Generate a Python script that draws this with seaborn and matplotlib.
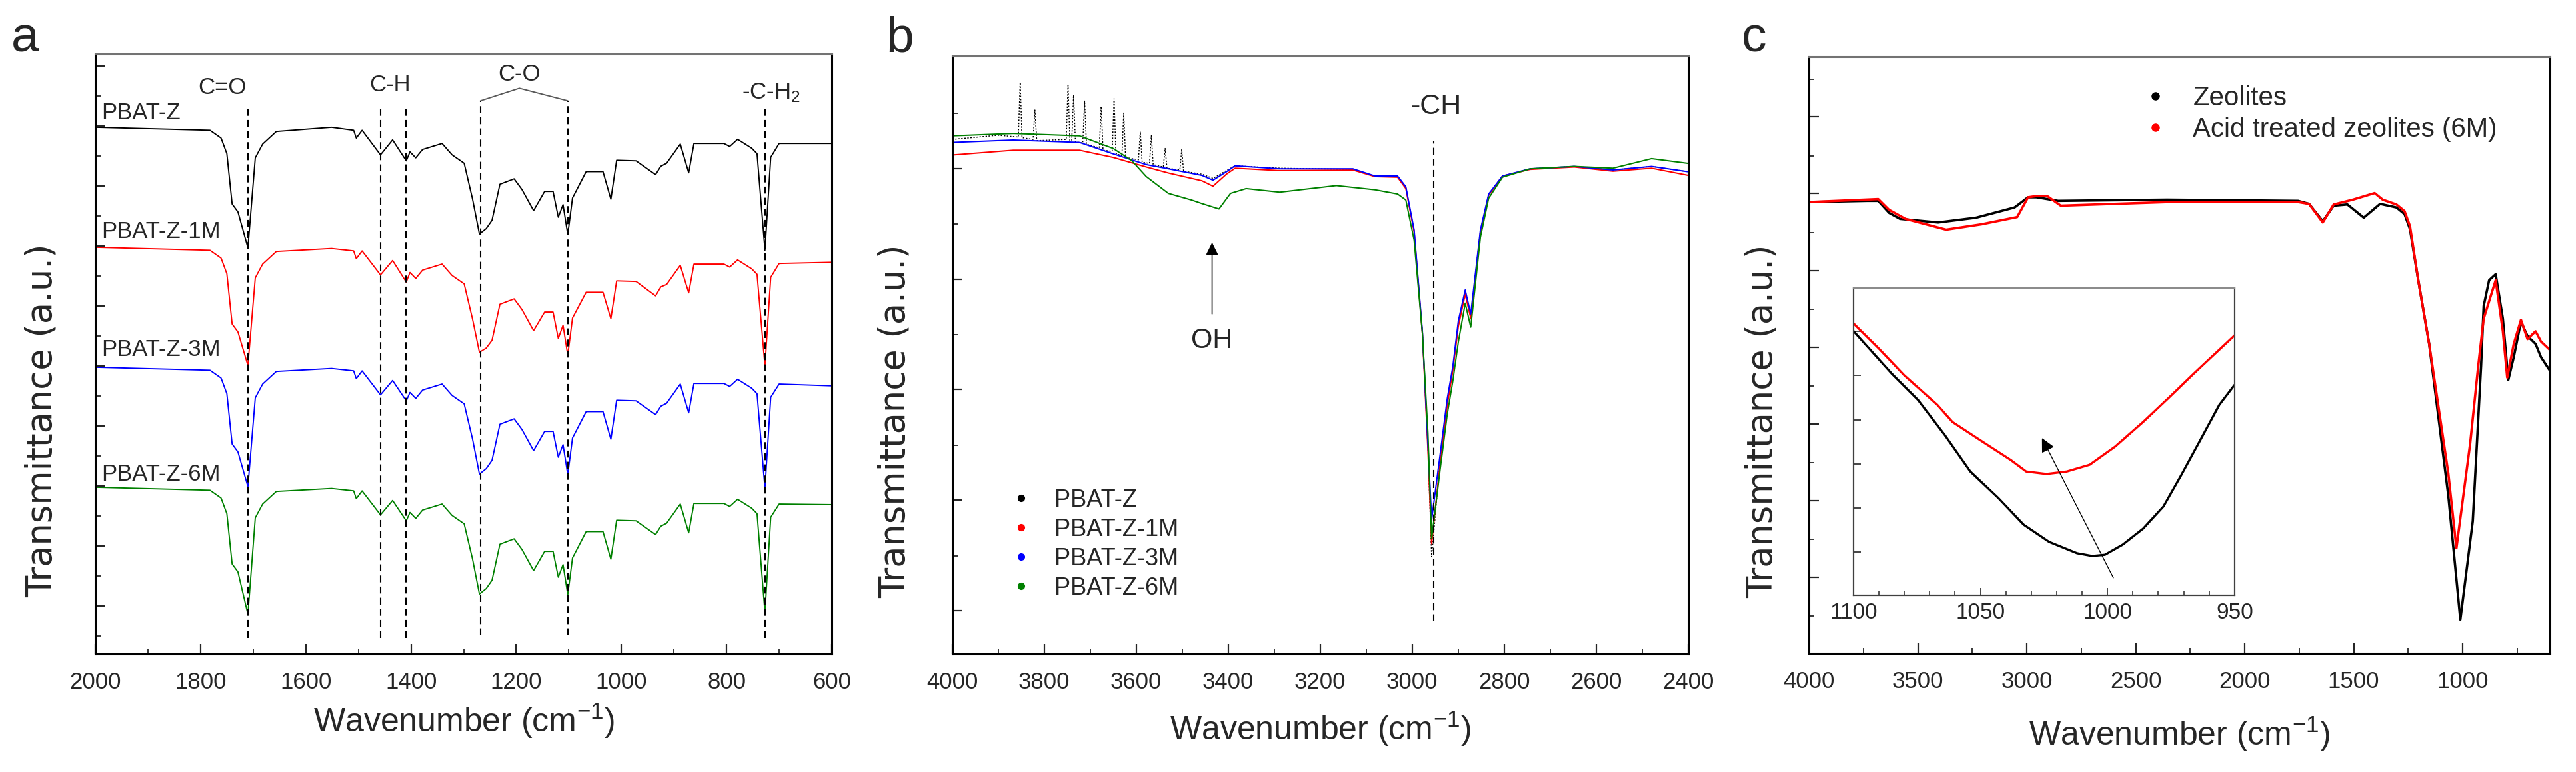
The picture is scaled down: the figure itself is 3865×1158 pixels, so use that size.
import numpy as np
import pandas as pd
import matplotlib
matplotlib.use("Agg")
import matplotlib.pyplot as plt
from matplotlib.lines import Line2D
from matplotlib.ticker import MultipleLocator
import seaborn as sns

# ---------------- panel a : 2000-600 cm-1, stacked spectra ----------------
WN_A = [2000, 1782, 1761, 1750, 1740, 1729, 1710, 1696, 1682, 1656, 1551, 1509, 1504, 1493,
        1458, 1435, 1409, 1402, 1391, 1378, 1341, 1322, 1299, 1283, 1270, 1257, 1246, 1231,
        1204, 1189, 1167, 1146, 1130, 1120, 1111, 1102, 1093, 1067, 1035, 1020, 1009, 972,
        935, 925, 914, 888, 872, 862, 805, 794, 779, 752, 742, 727, 716, 700, 600]
T_A_Z = [87.8, 87.3, 86.0, 83.4, 75.0, 73.7, 67.7, 82.7, 85.0, 87.1, 87.8, 87.3, 86.0, 87.3,
         83.2, 85.7, 82.2, 83.7, 82.7, 84.1, 85.1, 83.2, 81.8, 75.8, 70.0, 70.9, 72.3, 78.3,
         79.2, 77.4, 73.9, 77.1, 77.1, 72.8, 74.9, 69.9, 76.0, 80.4, 80.4, 75.8, 82.3, 82.2,
         79.9, 81.3, 81.8, 85.0, 80.2, 85.1, 85.1, 84.6, 85.8, 84.3, 83.4, 67.3, 82.8, 85.1, 85.1]
T_A_1M = [67.8, 67.3, 66.0, 63.4, 55.0, 53.7, 48.1, 62.7, 65.0, 67.1, 67.6, 67.2, 65.9, 67.2,
          63.2, 65.6, 62.0, 63.6, 62.6, 64.0, 65.0, 63.1, 61.7, 55.8, 50.3, 51.0, 52.3, 58.3,
          59.2, 57.4, 53.9, 57.0, 57.0, 52.6, 54.8, 49.8, 56.0, 60.3, 60.3, 55.9, 62.2, 62.1,
          59.7, 61.2, 61.6, 64.8, 60.2, 65.0, 65.0, 64.5, 65.7, 64.2, 63.3, 48.0, 62.8, 65.1, 65.3]
T_A_3M = [47.8, 47.3, 46.0, 43.4, 35.0, 33.7, 27.9, 42.7, 45.0, 47.1, 47.6, 47.2, 45.9, 47.2,
          43.2, 45.6, 42.2, 43.6, 42.6, 44.0, 45.0, 43.1, 41.7, 35.8, 30.0, 30.9, 32.3, 38.3,
          39.2, 37.4, 33.9, 37.1, 37.1, 32.8, 34.9, 29.9, 36.0, 40.4, 40.4, 35.8, 42.3, 42.2,
          39.9, 41.3, 41.8, 45.0, 40.2, 45.1, 45.1, 44.6, 45.8, 44.3, 43.4, 27.6, 42.8, 45.0, 44.7]
T_A_6M = [27.8, 27.3, 26.0, 23.4, 15.0, 13.7, 6.6, 22.7, 25.0, 27.1, 27.6, 27.2, 25.9, 27.2,
          23.2, 25.6, 22.2, 23.6, 22.6, 24.0, 25.0, 23.1, 21.7, 15.8, 10.0, 10.9, 12.3, 18.3,
          19.2, 17.4, 13.9, 17.1, 17.1, 12.8, 14.9, 9.9, 16.0, 20.4, 20.4, 15.8, 22.3, 22.2,
          19.9, 21.3, 21.8, 25.0, 20.2, 25.1, 25.1, 24.6, 25.8, 24.3, 23.4, 6.9, 22.8, 25.0, 24.9]
LABEL_Y_A = [90.2, 70.4, 50.7, 30.0]
PEAKS_A = [1710, 1458, 1410, 727]
PEAKS_CO = [1268, 1102]

# ---------------- panel b : 4000-2400 cm-1 ----------------
WN_B_Z = [4000, 3900, 3856, 3852, 3848, 3824, 3820, 3816, 3752, 3748, 3744, 3740, 3736, 3732,
          3716, 3712, 3708, 3680, 3676, 3672, 3652, 3648, 3644, 3631, 3627, 3623, 3595, 3591,
          3587, 3571, 3567, 3563, 3541, 3537, 3533, 3505, 3501, 3497, 3457, 3433, 3404, 3385,
          3288, 3129, 3081, 3032, 3014, 2996, 2978, 2966, 2958, 2940, 2924, 2912, 2900, 2885,
          2873, 2852, 2834, 2804, 2744, 2648, 2564, 2480, 2400]
T_B_Z = [85.8, 86.5, 86.2, 95.3, 86.1, 85.8, 90.7, 85.6, 85.8, 94.8, 85.6, 85.6, 93.2, 85.4,
         85.2, 92.2, 85.0, 84.4, 91.3, 84.0, 83.8, 92.6, 83.5, 83.0, 90.2, 82.8, 82.4, 87.1,
         82.0, 81.8, 86.4, 81.6, 81.2, 84.3, 81.0, 80.7, 84.1, 80.5, 80.0, 79.3, 80.6, 81.4,
         81.0, 80.8, 79.7, 79.6, 77.8, 70.5, 53.5, 34.5, 16.2, 32.0, 42.0, 47.5, 55.0, 60.3,
         56.5, 70.5, 76.6, 79.7, 80.9, 81.3, 80.7, 81.3, 80.4]
WN_B = [4000, 3867, 3723, 3650, 3578, 3530, 3457, 3433, 3404, 3385, 3288, 3129, 3081, 3032,
        3014, 2996, 2978, 2966, 2958, 2940, 2924, 2912, 2900, 2885, 2873, 2852, 2834, 2804,
        2744, 2648, 2564, 2480, 2400]
T_B_1M = [83.2, 84.0, 84.0, 82.8, 81.2, 80.2, 78.9, 78.0, 80.0, 81.0, 80.6, 80.7, 79.6, 79.5,
          77.6, 70.4, 53.4, 34.0, 18.4, 31.5, 41.5, 47.2, 54.6, 60.0, 56.0, 70.3, 76.5, 79.7,
          80.8, 81.2, 80.5, 81.0, 79.8]
T_B_3M = [85.3, 85.7, 85.3, 83.4, 81.6, 80.9, 79.8, 79.0, 80.4, 81.4, 80.9, 80.9, 79.7, 79.7,
          77.9, 70.7, 53.7, 35.0, 22.4, 33.0, 42.6, 47.9, 55.5, 60.7, 56.7, 70.7, 76.7, 79.7,
          80.9, 81.3, 80.7, 81.3, 80.4]
WN_B_6M = [4000, 3867, 3723, 3650, 3610, 3578, 3530, 3480, 3457, 3420, 3395, 3361, 3288, 3165,
           3081, 3032, 3014, 2996, 2978, 2966, 2958, 2940, 2924, 2912, 2900, 2885, 2873, 2852,
           2834, 2804, 2744, 2648, 2564, 2480, 2400]
T_B_6M = [86.4, 86.8, 86.4, 84.3, 82.3, 79.6, 76.8, 75.7, 75.1, 74.2, 76.8, 77.6, 77.0, 78.1,
          77.4, 76.7, 75.7, 69.0, 53.4, 36.8, 19.2, 30.5, 40.0, 45.5, 52.0, 58.5, 54.5, 69.5,
          76.0, 79.5, 80.9, 81.3, 81.0, 82.6, 81.8]

# ---------------- panel c : zeolites 4000-600 cm-1 ----------------
WN_C_Z = [4000, 3732, 3682, 3632, 3582, 3407, 3232, 3056, 2994, 2956, 2856, 2356, 1755, 1705,
          1642, 1592, 1529, 1454, 1379, 1304, 1267, 1242, 1204, 1154, 1066, 1011, 954, 916,
          904, 879, 849, 816, 791, 766, 733, 703, 666, 641, 603]
T_C_Z = [75.2, 75.4, 75.4, 73.4, 72.4, 71.8, 72.6, 74.3, 76.0, 76.0, 75.4, 75.6, 75.4, 74.9,
         72.0, 74.6, 74.8, 72.6, 74.9, 74.3, 73.2, 70.7, 62.2, 51.6, 26.3, 5.7, 22.1, 47.9,
         57.9, 62.2, 63.2, 55.8, 45.6, 49.4, 55.3, 52.9, 51.6, 49.4, 47.3]
WN_C_ACID = [4000, 3682, 3632, 3557, 3370, 3207, 3044, 2994, 2956, 2906, 2844, 2356, 1755, 1705,
             1642, 1592, 1504, 1404, 1367, 1304, 1267, 1242, 1204, 1154, 1066, 1029, 966, 929,
             904, 849, 816, 796, 766, 733, 703, 666, 641, 603]
T_C_ACID = [75.2, 75.7, 73.9, 72.4, 70.6, 71.5, 72.7, 76.0, 76.2, 76.2, 74.6, 75.2, 75.2, 74.9,
            71.8, 74.8, 75.6, 76.7, 75.6, 74.8, 73.7, 71.2, 62.2, 51.6, 30.0, 17.6, 35.0, 47.9,
            55.8, 62.2, 53.7, 46.0, 51.6, 55.6, 52.4, 53.7, 52.0, 50.7]

# inset 1100-950 cm-1
WN_IN_Z = [1100, 1085, 1074.6, 1064, 1054, 1043, 1033, 1023, 1012, 1006, 1001, 994, 986, 978,
           971, 963.5, 956, 950]
T_IN_Z = [86.0, 72.2, 63.6, 52.1, 40.3, 31.7, 23.0, 17.4, 13.7, 12.8, 13.2, 16.5, 21.7, 28.9,
          39.1, 50.5, 62.0, 68.5]
WN_IN_ACID = [1100, 1090, 1080, 1067, 1061, 1049, 1038, 1032, 1024, 1016, 1007, 997, 986, 976,
              966, 950]
T_IN_ACID = [88.5, 80.3, 71.6, 62.0, 56.4, 49.9, 44.0, 40.3, 39.5, 40.3, 42.5, 48.4, 56.4, 64.2,
             72.2, 84.6]

SAMPLES = ["PBAT-Z", "PBAT-Z-1M", "PBAT-Z-3M", "PBAT-Z-6M"]
ZEOS = ["Zeolites", "Acid treated zeolites (6M)"]
COLORS = ["#000000", "#ff0000", "#0000ff", "#008000"]

sns.set_style("ticks")
plt.rcParams["font.family"] = ["Liberation Sans", "DejaVu Sans"]
plt.rcParams["mathtext.default"] = "regular"


def long_df(xs, ys, names):
    parts = [pd.DataFrame({"wn": x, "t": y, "s": n}) for x, y, n in zip(xs, ys, names)]
    return pd.concat(parts, ignore_index=True)


def style_axes(ax, xlim, xmaj, xmin, ymaj, ymin, ylim=(0, 100)):
    ax.set_xlim(xlim)
    ax.set_ylim(ylim)
    ax.xaxis.set_major_locator(MultipleLocator(xmaj))
    ax.xaxis.set_minor_locator(MultipleLocator(xmin))
    ax.set_yticks(ymaj)
    ax.set_yticks(ymin, minor=True)
    ax.set_yticklabels([])
    ax.tick_params(which="both", direction="in", top=False, right=False)
    ax.tick_params(which="major", length=11, width=1.6, labelsize=25, pad=19)
    ax.tick_params(which="minor", length=6, width=1.3)
    for sp in ax.spines.values():
        sp.set_linewidth(2.2)
        sp.set_color("black")
    ax.spines["top"].set_color("0.45")
    ax.set_xlabel("Wavenumber (cm$^{-1}$)", fontsize=36)
    ax.set_ylabel("Transmittance (a.u.)", fontsize=38, family="DejaVu Sans")


fig = plt.figure(figsize=(38.65, 11.58), dpi=100)
fig.patch.set_facecolor("white")
ax_a = fig.add_axes([0.0370, 0.1528, 0.2859, 0.7772])
ax_b = fig.add_axes([0.3696, 0.1528, 0.2858, 0.7746])
ax_c = fig.add_axes([0.7022, 0.1537, 0.2877, 0.7729])

# ---- a
df_a = long_df([WN_A] * 4, [T_A_Z, T_A_1M, T_A_3M, T_A_6M], SAMPLES)
sns.lineplot(data=df_a, x="wn", y="t", hue="s", palette=COLORS, sort=False, estimator=None,
             legend=False, lw=1.4, ax=ax_a)
style_axes(ax_a, (2000, 600), 200, 100, np.arange(8, 99, 10), np.arange(3, 99, 10))
for wn in PEAKS_A:
    ax_a.axvline(wn, ymin=0.027, ymax=0.911, color="k", lw=1.5, ls=(0, (5, 3)))
for wn in PEAKS_CO:
    ax_a.axvline(wn, ymin=0.031, ymax=0.922, color="k", lw=1.5, ls=(0, (5, 3)))
ax_a.plot([PEAKS_CO[0], 1194, PEAKS_CO[1]], [92.2, 94.3, 92.2], color="0.35", lw=1.4)
ax_a.text(1759, 94.4, "C=O", ha="center", va="center", fontsize=25)
ax_a.text(1440, 94.8, "C-H", ha="center", va="center", fontsize=25)
ax_a.text(1194, 96.6, "C-O", ha="center", va="center", fontsize=25)
ax_a.text(715, 93.5, "-C-H$_2$", ha="center", va="center", fontsize=25)
for name, y in zip(SAMPLES, LABEL_Y_A):
    ax_a.text(1988, y, name, ha="left", va="center", fontsize=25)
ax_a.yaxis.set_label_coords(-0.049, 0.389)
ax_a.xaxis.set_label_coords(0.5, -0.08)

# ---- b  (black drawn thin and dotted, it sits under the coloured ones)
df_bz = long_df([WN_B_Z], [T_B_Z], SAMPLES[:1])
sns.lineplot(data=df_bz, x="wn", y="t", color=COLORS[0], sort=False, estimator=None,
             legend=False, lw=1.1, ls=(0, (1.5, 1.5)), ax=ax_b)
df_b = long_df([WN_B, WN_B, WN_B_6M], [T_B_1M, T_B_3M, T_B_6M], SAMPLES[1:])
sns.lineplot(data=df_b, x="wn", y="t", hue="s", palette=COLORS[1:], sort=False, estimator=None,
             legend=False, lw=1.5, ax=ax_b)
style_axes(ax_b, (4000, 2400), 200, 100, np.arange(7.2, 99, 18.44), np.arange(16.4, 99, 18.44),
           ylim=(0, 99.7))
ax_b.axvline(2954, ymin=0.055, ymax=0.858, color="k", lw=1.5, ls=(0, (5, 3)))
ax_b.text(2949, 91.3, "-CH", ha="center", va="center", fontsize=31)
ax_b.text(3435, 52.3, "OH", ha="center", va="center", fontsize=30)
ax_b.annotate("", xy=(3435, 68.6), xytext=(3435, 56.7),
              arrowprops=dict(arrowstyle="-|>", color="k", lw=1.2, mutation_scale=28,
                              shrinkA=0, shrinkB=0))
hb = [Line2D([], [], ls="none", marker="o", ms=7, color=c) for c in COLORS]
ax_b.legend(hb, SAMPLES, loc="upper left", bbox_to_anchor=(0.0774, 0.277), frameon=False,
            fontsize=26, handlelength=1.0, handletextpad=0.89, labelspacing=0.25,
            borderpad=0, borderaxespad=0)
ax_b.yaxis.set_label_coords(-0.054, 0.389)
ax_b.xaxis.set_label_coords(0.5, -0.093)

# ---- c
df_c = long_df([WN_C_Z, WN_C_ACID], [T_C_Z, T_C_ACID], ZEOS)
sns.lineplot(data=df_c, x="wn", y="t", hue="s", palette=COLORS[:2], sort=False, estimator=None,
             legend=False, lw=2.6, ax=ax_c)
style_axes(ax_c, (4000, 600), 500, 250, np.arange(12.8, 99, 12.76), np.arange(6.3, 99, 12.76),
           ylim=(0.1, 99.4))
hc = [Line2D([], [], ls="none", marker="o", ms=8, color=c) for c in COLORS[:2]]
ax_c.legend(hc, ZEOS, loc="upper left", bbox_to_anchor=(0.4496, 0.952), frameon=False,
            fontsize=29, handlelength=1.0, handletextpad=0.9, labelspacing=0.22,
            borderpad=0, borderaxespad=0)
ax_c.yaxis.set_label_coords(-0.040, 0.389)
ax_c.xaxis.set_label_coords(0.5, -0.104)

# inset
ax_in = fig.add_axes([0.7195, 0.2288, 0.1480, 0.3981])
df_in = long_df([WN_IN_Z, WN_IN_ACID], [T_IN_Z, T_IN_ACID], ZEOS)
sns.lineplot(data=df_in, x="wn", y="t", hue="s", palette=COLORS[:2], sort=False, estimator=None,
             legend=False, lw=2.4, ax=ax_in)
ax_in.set_xlim(1100, 950)
ax_in.set_ylim(0, 100)
ax_in.xaxis.set_major_locator(MultipleLocator(50))
ax_in.xaxis.set_minor_locator(MultipleLocator(10))
ax_in.set_yticks(np.arange(14.1, 99, 14.35))
ax_in.set_yticklabels([])
ax_in.tick_params(which="both", direction="in", top=False, right=False)
ax_in.tick_params(which="major", length=8, width=1.2, labelsize=24, pad=8)
ax_in.tick_params(which="minor", length=5, width=1.1)
for sp in ax_in.spines.values():
    sp.set_linewidth(1.6)
    sp.set_color("0.25")
ax_in.spines["top"].set_color("0.55")
ax_in.set_xlabel("")
ax_in.set_ylabel("")
ax_in.annotate("", xy=(1025.8, 51.2), xytext=(997.7, 5.7),
               arrowprops=dict(arrowstyle="-|>", color="k", lw=1.0, mutation_scale=32,
                               shrinkA=0, shrinkB=0))

for lbl, x in zip(["a", "b", "c"], [0.0044, 0.3439, 0.6761]):
    fig.text(x, 0.9335, lbl, fontsize=54, va="baseline", ha="left")

fig.savefig("out.png", dpi=100, facecolor="white")
